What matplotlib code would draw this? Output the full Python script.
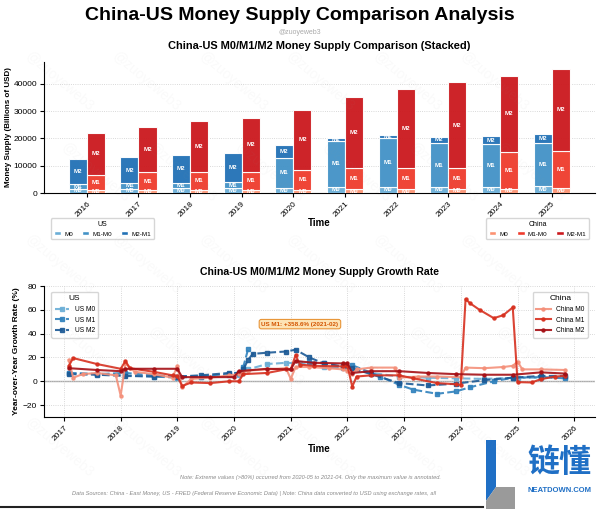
import numpy as np
import pandas as pd
import matplotlib
matplotlib.use('Agg')
from matplotlib import pyplot as plt
from matplotlib.patches import Patch, Polygon, Rectangle
from matplotlib.lines import Line2D
import matplotlib.dates as mdates

plt.rcParams['font.family'] = ['Liberation Sans', 'DejaVu Sans']

# yearly money supply, billions of USD
years = [2016, 2017, 2018, 2019, 2020, 2021, 2022, 2023, 2024, 2025]
us_m0 = [1500, 1600, 1700, 1800, 2000, 2300, 2300, 2300, 2300, 2400]
us_m1 = [3300, 3600, 3700, 3900, 12700, 19100, 20300, 18200, 17900, 18500]
us_m2 = [12500, 13200, 13900, 14600, 17600, 20300, 21300, 20700, 20900, 21700]
cn_m0 = [1000, 1050, 1050, 1100, 1200, 1300, 1400, 1500, 1600, 1800]
cn_m1 = [6600, 7600, 7800, 7800, 8400, 9300, 9300, 9300, 15200, 15400]
cn_m2 = [22100, 24100, 26500, 27600, 30500, 35100, 38000, 40500, 42700, 45500]

# year-over-year growth (%)
cn_m0_dates = ['2017-02', '2017-03', '2017-05', '2017-08', '2017-12', '2018-01', '2018-02', '2018-04',
               '2018-08', '2018-12', '2019-01', '2019-02', '2019-04', '2019-08', '2019-12', '2020-02',
               '2020-04', '2020-08', '2020-12', '2021-01', '2021-02', '2021-05', '2021-09', '2021-12',
               '2022-01', '2022-02', '2022-03', '2022-06', '2022-11', '2022-12', '2023-04', '2023-08',
               '2024-01', '2024-02', '2024-06', '2024-10', '2024-12', '2025-01', '2025-02', '2025-06', '2025-11']
cn_m0_yoy = [18, 3, 6, 7, 5, -12, 15, 8,
             6, 3, 13, -5, 2, 3, 5, 6,
             9, 10, 11, 2, 12, 12, 11, 10,
             9, 6, 10, 11.5, 11.5, 3, 4, 4,
             3.5, 11.5, 11, 12, 13, 16.5, 10, 10, 9.5]

cn_m1_dates = ['2017-02', '2017-03', '2017-08', '2018-01', '2018-02', '2018-03', '2018-08', '2018-12',
               '2019-01', '2019-02', '2019-04', '2019-08', '2019-12', '2020-02', '2020-03', '2020-08',
               '2020-12', '2021-01', '2021-02', '2021-03', '2021-06', '2021-12', '2022-01', '2022-02',
               '2022-03', '2022-06', '2022-12', '2023-03', '2023-08', '2023-12', '2024-01', '2024-02',
               '2024-03', '2024-05', '2024-08', '2024-10', '2024-12', '2025-01', '2025-04', '2025-06',
               '2025-09', '2025-11']
cn_m1_yoy = [13, 19.5, 14.5, 10.5, 17, 11, 8, 5,
             4.5, -4, -1, -1.5, 0, 0, 6, 7,
             10, 10, 22, 14, 13, 12.5, 13, -4.5,
             4, 5, 5, 2.5, -1.5, -2.5, -3, 69,
             65.5, 60, 53, 55.5, 62, -0.7, -1, 1.8,
             4, 4.5]

cn_m2_dates = ['2017-02', '2017-08', '2018-01', '2018-02', '2018-08', '2019-01', '2019-02', '2019-08',
               '2020-01', '2020-02', '2020-08', '2021-01', '2021-02', '2021-06', '2021-12', '2022-01',
               '2022-02', '2022-06', '2022-12', '2023-06', '2023-12', '2024-06', '2024-12', '2025-06',
               '2025-11']
cn_m2_yoy = [11, 9.5, 8.5, 10.5, 10.5, 10.5, 3.5, 3.5,
             3.5, 8.5, 10.5, 10, 17, 15.5, 15, 15,
             7, 8.5, 8.5, 7, 6, 5.5, 5.5, 7.5,
             6.5]

us_m0_dates = ['2017-02', '2017-08', '2018-02', '2018-08', '2019-01', '2019-06', '2019-12', '2020-02',
               '2020-04', '2020-08', '2020-12', '2021-03', '2021-08', '2021-12', '2022-06', '2022-12',
               '2023-06', '2023-12', '2024-06', '2025-01', '2025-06', '2025-11']
us_m0_yoy = [7, 6, 5, 4, 3, 4, 5, 5,
             10, 14.5, 15.5, 15, 12, 11, 7, 4,
             3, 2.5, 2, 3, 3, 3.5]

us_m1_dates = ['2017-02', '2017-08', '2018-02', '2018-08', '2019-01', '2019-06', '2019-12', '2020-02',
               '2020-03', '2020-04', '2020-05', '2021-04', '2021-05', '2021-08', '2021-12', '2022-02',
               '2022-08', '2022-12', '2023-03', '2023-08', '2023-12', '2024-03', '2024-08', '2024-12',
               '2025-06', '2025-11']
us_m1_yoy = [7, 6, 7, 5, 4, 4, 6, 7,
             12, 27, np.nan, np.nan, 16, 15, 12, 13.5,
             4, -3, -7, -10.5, -8.5, -5, 0, 3,
             3.5, 2.5]

us_m2_dates = ['2017-02', '2017-08', '2018-02', '2018-08', '2019-01', '2019-06', '2019-12', '2020-02',
               '2020-03', '2020-04', '2020-05', '2020-08', '2020-12', '2021-02', '2021-05', '2021-08',
               '2021-12', '2022-02', '2022-06', '2022-12', '2023-06', '2023-12', '2024-06', '2024-12',
               '2025-06', '2025-11']
us_m2_yoy = [6, 5.5, 4.5, 4, 4, 5, 7, 7,
             10, 18, 23, 24, 25, 26.5, 20, 15,
             12.5, 11, 6, -1.5, -3.5, -2, 1, 3,
             4.5, 4.5]

us_colors = ['#6aaed6', '#4292c6', '#2171b5']
cn_colors = ['#fc9272', '#ef3b2c', '#cb181d']

fig = plt.figure(figsize=(6, 5.09), dpi=100)

# very faint diagonal watermark, kept inside the canvas
for i in range(6):
    for j in range(5):
        fig.text(0.1 + i * 0.145 + (j % 2) * 0.06, 0.12 + j * 0.18, '@zuoyeweb3', rotation=-40,
                 color='#999999', alpha=0.05, fontsize=10, ha='center', va='center')

fig.text(0.5, 0.970, 'China-US Money Supply Comparison Analysis', ha='center', va='center',
         fontsize=14, fontweight='bold')
fig.text(0.5, 0.937, '@zuoyeweb3', ha='center', va='center', fontsize=5, color='#aaaaaa')

# ---------- stacked bars ----------
ax1 = fig.add_axes([0.0733, 0.6208, 0.9184, 0.2574])
x = np.arange(len(years))
w = 0.35
us_parts = [np.array(us_m0), np.array(us_m1) - np.array(us_m0), np.array(us_m2) - np.array(us_m1)]
cn_parts = [np.array(cn_m0), np.array(cn_m1) - np.array(cn_m0), np.array(cn_m2) - np.array(cn_m1)]
seg_names = ['M0', 'M1', 'M2']
for parts, colors, off in [(us_parts, us_colors, -w / 2), (cn_parts, cn_colors, w / 2)]:
    bottom = np.zeros(len(years))
    for k in range(3):
        ax1.bar(x + off, parts[k], w, bottom=bottom, color=colors[k], edgecolor='white',
                linewidth=0.8, alpha=0.95, zorder=3)
        for i in range(len(years)):
            ax1.text(x[i] + off, bottom[i] + parts[k][i] / 2, seg_names[k], ha='center', va='center',
                     color='white', fontsize=4.5, fontweight='bold', zorder=4)
        bottom = bottom + parts[k]

ax1.set_xlim(-0.83, 9.84)
ax1.set_ylim(0, 48000)
ax1.set_yticks([0, 10000, 20000, 30000, 40000])
ax1.set_xticks(x)
ax1.set_xticklabels([str(y) for y in years], rotation=45, ha='right', rotation_mode='anchor')
ax1.tick_params(labelsize=6, length=3, width=0.8, pad=2)
ax1.grid(axis='y', linestyle=':', color='#cccccc', linewidth=0.6, zorder=0)
ax1.spines['top'].set_visible(False)
ax1.spines['right'].set_visible(False)
ax1.set_title('China-US M0/M1/M2 Money Supply Comparison (Stacked)', fontsize=7.9,
              fontweight='bold', pad=9)
ax1.set_ylabel('Money Supply (Billions of USD)', fontsize=5.8, fontweight='bold', labelpad=1)
ax1.set_xlabel('Time', fontsize=7, fontweight='bold', labelpad=0)

leg_names = ['M0', 'M1-M0', 'M2-M1']
us_handles = [Patch(facecolor=c, edgecolor='white') for c in us_colors]
cn_handles = [Patch(facecolor=c, edgecolor='white') for c in cn_colors]
leg_kw = dict(ncol=3, fontsize=4.5, title_fontsize=5, handlelength=1.2, handleheight=0.6,
              columnspacing=1.4, handletextpad=0.5, borderpad=0.45, frameon=True,
              edgecolor='#cccccc', fancybox=True)
l1 = ax1.legend(us_handles, leg_names, title='US', loc='upper left',
                bbox_to_anchor=(0.007, -0.17), **leg_kw)
ax1.add_artist(l1)
ax1.legend(cn_handles, leg_names, title='China', loc='upper right',
           bbox_to_anchor=(0.995, -0.17), **leg_kw)

# ---------- growth rates ----------
ax2 = fig.add_axes([0.0733, 0.1807, 0.9184, 0.2574])
ax2.axhline(0, color='#aaaaaa', linewidth=1, zorder=1)
series = [
    (us_m0_dates, us_m0_yoy, 'US M0', '#6baed6', '--', 's'),
    (us_m1_dates, us_m1_yoy, 'US M1', '#3182bd', '--', 's'),
    (us_m2_dates, us_m2_yoy, 'US M2', '#1c5a96', '--', 's'),
    (cn_m0_dates, cn_m0_yoy, 'China M0', '#f4907a', '-', 'o'),
    (cn_m1_dates, cn_m1_yoy, 'China M1', '#d7301f', '-', 'o'),
    (cn_m2_dates, cn_m2_yoy, 'China M2', '#a50f15', '-', 'o'),
]
lines = {}
for d, v, name, c, ls, mk in series:
    ln, = ax2.plot(pd.to_datetime(d), v, color=c, linestyle=ls, marker=mk, markersize=2.2,
                   linewidth=1.5, label=name, zorder=3, alpha=0.9)
    lines[name] = ln

ax2.text(pd.Timestamp('2021-03-01'), 48, 'US M1: +358.6% (2021-02)', ha='center', va='center',
         fontsize=4.5, fontweight='bold', color='#d35400',
         bbox=dict(boxstyle='round,pad=0.35', facecolor='#fde3b5', edgecolor='#e8963a', linewidth=0.8),
         zorder=5)

ax2.set_xlim(pd.Timestamp('2016-08-25'), pd.Timestamp('2026-05-15'))
ax2.set_ylim(-30, 80)
ax2.set_yticks([-20, 0, 20, 40, 60, 80])
ax2.xaxis.set_major_locator(mdates.YearLocator())
ax2.xaxis.set_major_formatter(mdates.DateFormatter('%Y'))
plt.setp(ax2.get_xticklabels(), rotation=45, ha='right', rotation_mode='anchor')
ax2.tick_params(labelsize=6, length=3, width=0.8, pad=2)
ax2.grid(True, linestyle=':', color='#cccccc', linewidth=0.6, zorder=0)
ax2.spines['top'].set_visible(False)
ax2.spines['right'].set_visible(False)
ax2.set_title('China-US M0/M1/M2 Money Supply Growth Rate', fontsize=7.6, fontweight='bold', pad=8)
ax2.set_ylabel('Year-over-Year Growth Rate (%)', fontsize=6, fontweight='bold', labelpad=2)
ax2.set_xlabel('Time', fontsize=7, fontweight='bold', labelpad=1)

leg2_kw = dict(fontsize=4.8, title_fontsize=6, handlelength=2.2, borderpad=0.5, frameon=True,
               edgecolor='#cccccc', fancybox=True, labelspacing=0.55)
l2 = ax2.legend([lines[n] for n in ['US M0', 'US M1', 'US M2']], ['US M0', 'US M1', 'US M2'],
                title='US', loc='upper left', bbox_to_anchor=(0.007, 0.98), **leg2_kw)
ax2.add_artist(l2)
ax2.legend([lines[n] for n in ['China M0', 'China M1', 'China M2']],
           ['China M0', 'China M1', 'China M2'], title='China', loc='upper right',
           bbox_to_anchor=(0.993, 0.98), **leg2_kw)

# ---------- footnotes ----------
fig.text(311 / 600, 1 - 478 / 509,
         'Note: Extreme values (>80%) occurred from 2020-05 to 2021-04. Only the maximum value is annotated.',
         ha='center', va='center', fontsize=4.1, style='italic', color='#888888')
fig.text(72 / 600, 1 - 494 / 509,
         'Data Sources: China - East Money, US - FRED (Federal Reserve Economic Data) | Note: China data '
         'converted to USD using exchange rates, all',
         ha='left', va='center', fontsize=4.1, style='italic', color='#888888')
fig.add_artist(Line2D([0, 0.805], [0.004, 0.004], transform=fig.transFigure, color='#222222', linewidth=1.5))

# ---------- logo ----------
logo = fig.add_axes([0.805, 0, 0.195, 0.1356])
logo.set_xlim(0, 117)
logo.set_ylim(0, 69)
logo.axis('off')
logo.add_patch(Rectangle((0, 0), 117, 69, facecolor='white', edgecolor='none', zorder=0))
logo.add_patch(Polygon([(3, 69), (13, 69), (13, 22), (3, 8)], closed=True, facecolor='#1f6fc5', zorder=1))
logo.add_patch(Polygon([(3, 8), (13, 22), (32, 22), (32, 0), (3, 0)], closed=True,
                       facecolor='#9a9a9a', zorder=1))
logo.text(76, 46, '链懂', ha='center', va='center', fontsize=23, fontweight='bold', color='#1f6fc5',
          family=['Noto Sans CJK SC', 'DejaVu Sans'])
logo.text(77, 18, 'NEATDOWN.COM', ha='center', va='center', fontsize=5.5, fontweight='bold',
          color='#1f6fc5')

fig.savefig('out.png', dpi=100)
